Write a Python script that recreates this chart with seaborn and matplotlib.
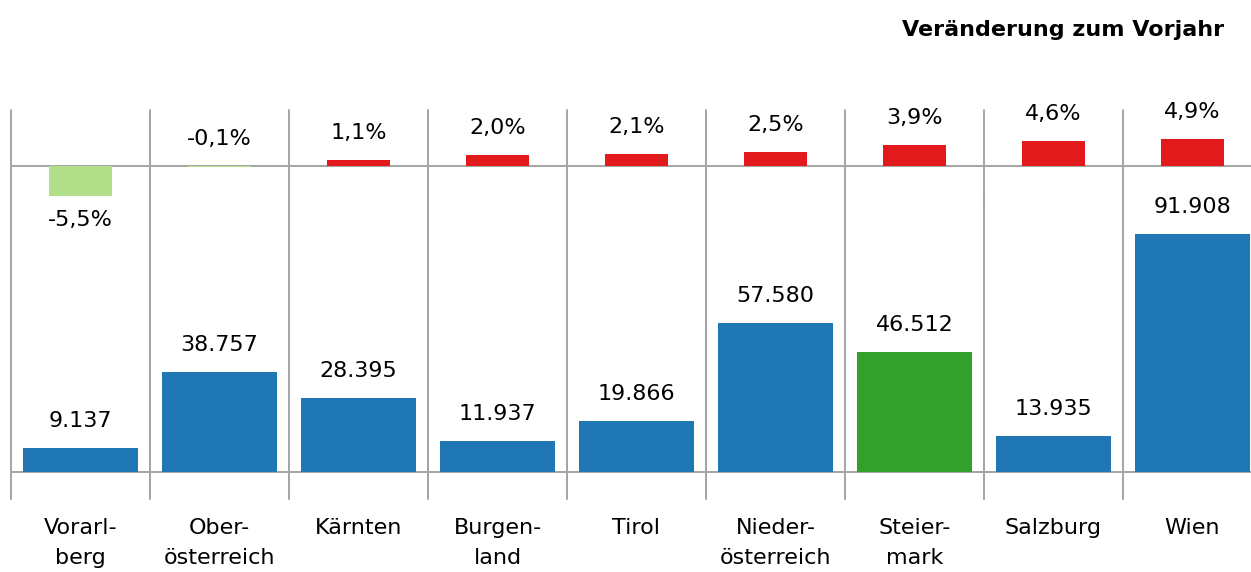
import matplotlib
matplotlib.use("Agg")
import matplotlib.pyplot as plt
import seaborn as sns
import pandas as pd

categories = ["Vorarl-\nberg", "Ober-\nösterreich", "Kärnten", "Burgen-\nland", "Tirol",
              "Nieder-\nösterreich", "Steier-\nmark", "Salzburg", "Wien"]
values = [9137, 38757, 28395, 11937, 19866, 57580, 46512, 13935, 91908]
value_labels = ["9.137", "38.757", "28.395", "11.937", "19.866", "57.580", "46.512", "13.935", "91.908"]
changes = [-5.5, -0.1, 1.1, 2.0, 2.1, 2.5, 3.9, 4.6, 4.9]
change_labels = ["-5,5%", "-0,1%", "1,1%", "2,0%", "2,1%", "2,5%", "3,9%", "4,6%", "4,9%"]
bar_colors = ["#1f78b4"] * 6 + ["#33a02c"] + ["#1f78b4"] * 2
change_colors = ["#b2df8a" if c < 0 else "#e31a1c" for c in changes]
title = "Veränderung zum Vorjahr"

sns.set_theme(style="white")
plt.rcParams["font.family"] = ["DejaVu Sans"]
plt.rcParams["text.color"] = "black"
plt.rcParams["xtick.color"] = "black"

W, H = 1251, 572
fig = plt.figure(figsize=(W / 100, H / 100), dpi=100)

def axes_px(x0, y0, x1, y1):
    return fig.add_axes([x0 / W, 1 - y1 / H, (x1 - x0) / W, (y1 - y0) / H])

ax_top = axes_px(11, 110, W, 200)
ax_bot = axes_px(11, 200, W, 499)

grid_col = "#a6a6a6"
fs = 16

df_top = pd.DataFrame({"cat": categories, "val": changes})
df_bot = pd.DataFrame({"cat": categories, "val": values})

sns.barplot(data=df_top, x="cat", y="val", hue="cat", palette=change_colors,
            width=0.45, legend=False, ax=ax_top, saturation=1, linewidth=0)
sns.barplot(data=df_bot, x="cat", y="val", hue="cat", palette=bar_colors,
            width=0.83, legend=False, ax=ax_bot, saturation=1, linewidth=0)

xmin, xmax = -0.5, -0.5 + (W - 11) / 139.0
# top scale: 5.5 px per %
ax_top.set_ylim(-(200 - 166) / 5.5, (166 - 110) / 5.5)
# bottom scale: 2.59 px per 1000
ax_bot.set_ylim(-(499 - 472) / 0.00259, (472 - 200) / 0.00259)

for ax in (ax_top, ax_bot):
    ax.set_xlim(xmin, xmax)
    for s in ax.spines.values():
        s.set_visible(False)
    ax.set_yticks([])
    ax.set_ylabel("")
    ax.set_xlabel("")
    ax.patch.set_alpha(0)
    for i in range(len(categories) + 1):
        ax.axvline(i - 0.5, color=grid_col, lw=1.45, zorder=0, clip_on=False)
    ax.axhline(0, color=grid_col, lw=1.45, zorder=0.5)

ax_top.set_xticks([])

for i, (c, lab) in enumerate(zip(changes, change_labels)):
    if c < -1:
        ax_top.annotate(lab, (i, c), xytext=(0, -24 * 0.72), textcoords="offset points",
                        ha="center", va="center", fontsize=fs, annotation_clip=False)
    else:
        ax_top.annotate(lab, (i, max(c, 0)), xytext=(0, 27 * 0.72), textcoords="offset points",
                        ha="center", va="center", fontsize=fs, annotation_clip=False)

for i, (v, lab) in enumerate(zip(values, value_labels)):
    ax_bot.annotate(lab, (i, v), xytext=(0, 27 * 0.72), textcoords="offset points",
                    ha="center", va="center", fontsize=fs, annotation_clip=False)

ax_bot.set_xticks(range(len(categories)))
ax_bot.set_xticklabels(categories, fontsize=fs, linespacing=1.6, va="top")
ax_bot.tick_params(axis="x", length=0, pad=14)

fig.text(1224 / W, 1 - 30 / H, title, ha="right", va="center",
         fontsize=16, fontweight="bold")

fig.savefig("out.png", dpi=100)
